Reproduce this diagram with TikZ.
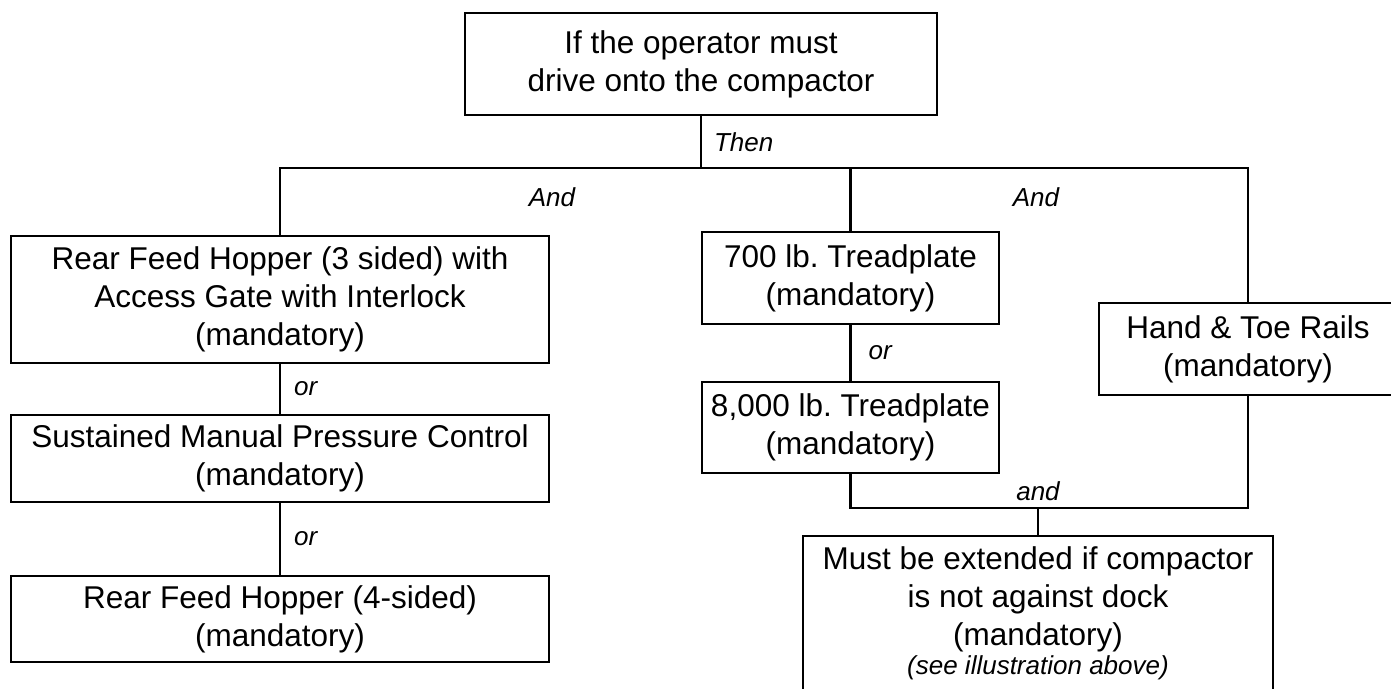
\documentclass[tikz,border=0pt]{standalone}
\usepackage{fontspec}
\setmainfont{Liberation Sans}
\usetikzlibrary{positioning}

\tikzset{
  box/.style={draw, line width=1.3pt, align=center, inner sep=0pt,
    font=\fontsize{31.5}{38}\selectfont},
  link/.style={line width=2.2pt},
  lbl/.style={font=\fontsize{26}{30}\selectfont\itshape, inner sep=0pt},
}

\begin{document}
\begin{tikzpicture}[x=1pt, y=-1pt]
    \useasboundingbox (0,0) rectangle (1391,688);
    \clip (0,0) rectangle (1391,688);
    \node[box, minimum width=472pt, minimum height=102pt] (top) at (701,64)
      {If the operator must\\drive onto the compactor};
    \node[box, minimum width=538pt, minimum height=127pt] (rfh3) at (280,299.5)
      {Rear Feed Hopper (3 sided) with\\Access Gate with Interlock\\(mandatory)};
    \node[box, minimum width=538pt, minimum height=87pt] (smpc) at (280,458.5)
      {Sustained Manual Pressure Control\\(mandatory)};
    \node[box, minimum width=538pt, minimum height=86pt] (rfh4) at (280,619)
      {Rear Feed Hopper (4-sided)\\(mandatory)};
    \node[box, minimum width=297pt, minimum height=92pt] (tp700) at (850.5,278)
      {700 lb.\ Treadplate\\(mandatory)};
    \node[box, minimum width=297pt, minimum height=91pt] (tp8000) at (850.5,427.5)
      {8,000 lb.\ Treadplate\\(mandatory)};
    \node[box, minimum width=298pt, minimum height=92pt] (rails) at (1248,349)
      {Hand \& Toe Rails\\(mandatory)};
    \node[box, minimum width=470pt, minimum height=154pt] (dock) at (1038,613)
      {Must be extended if compactor\\is not against dock\\(mandatory)\\[-9pt]
       {\fontsize{26}{30}\selectfont\itshape (see illustration above)}};
    \coordinate (bus) at (0,168);
    \coordinate (join) at (0,508);
    \draw[link] (top.south) -- (top.south |- bus)
      node[lbl, midway, right=12pt] (then) {Then};
    \draw[link] (rfh3.north) -- (rfh3.north |- bus) -- (rails.north |- bus) -- (rails.north);
    \draw[link] (tp700.north) -- (tp700.north |- bus);
    \node[lbl] (and1) at (552,197) {And};
    \node[lbl] (and2) at (1036,197) {And};
    \draw[link] (rfh3) -- (smpc) node[lbl, midway, right=13pt] (or1) {or};
    \draw[link] (smpc) -- (rfh4) node[lbl, midway, right=13pt] (or2) {or};
    \draw[link] (tp700) -- (tp8000) node[lbl, midway, right=17pt] (or3) {or};
    \draw[link] (tp8000.south) -- (tp8000.south |- join) -- (rails.south |- join) -- (rails.south);
    \draw[link] (dock.north |- join) -- (dock.north);
    \node[lbl, above=7pt] (and3) at (dock.north |- join) {and};
  \end{tikzpicture}
\end{document}
